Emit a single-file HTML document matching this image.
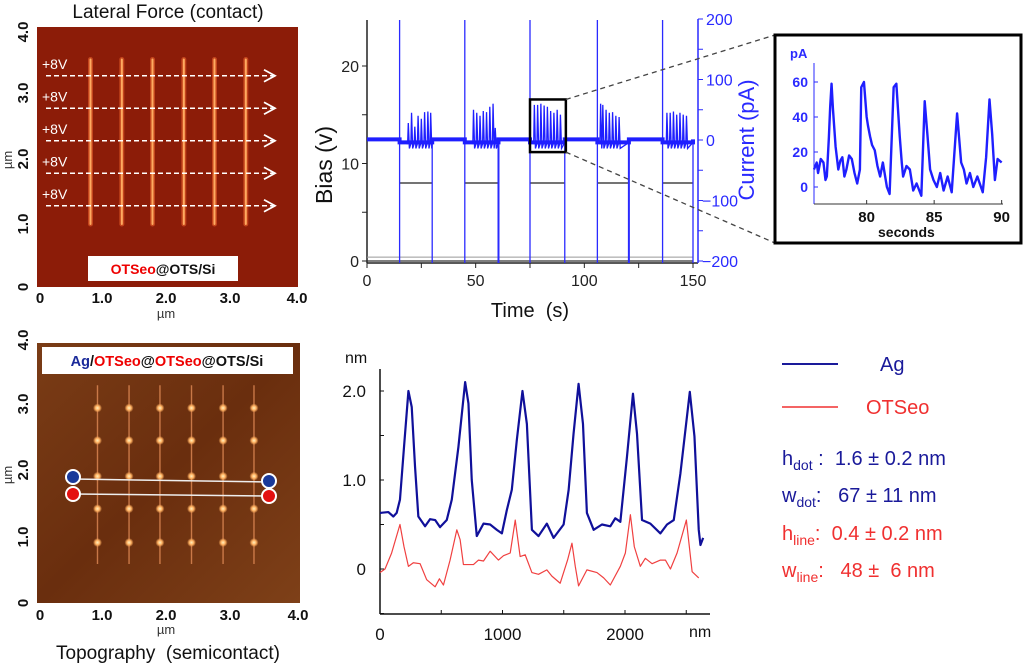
<!DOCTYPE html>
<html><head><meta charset="utf-8"><style>
html,body{margin:0;padding:0;background:#fff;}
svg{display:block;font-family:"Liberation Sans",sans-serif;}
text{white-space:pre;}
</style></head><body>
<svg id="fig" width="1024" height="665" viewBox="0 0 1024 665" xmlns="http://www.w3.org/2000/svg" xml:space="preserve">
<defs>
<radialGradient id="glow" cx="0.5" cy="0.5" r="0.5"><stop offset="0" stop-color="#fff2c0"/><stop offset="0.5" stop-color="#ffb060"/><stop offset="1" stop-color="#ffb060" stop-opacity="0"/></radialGradient>
<linearGradient id="topoBg" x1="0" y1="0" x2="1" y2="1"><stop offset="0" stop-color="#7a3c16"/><stop offset="0.5" stop-color="#6a2e0e"/><stop offset="1" stop-color="#7e4018"/></linearGradient>
</defs>

<g>
<text x="168" y="18" font-size="19" text-anchor="middle" fill="#111">Lateral Force (contact)</text>
<rect x="37" y="27" width="261" height="260" fill="#8c1c08"/>
<g id="lfLines"></g>
<g id="lfArrows"></g>
<rect x="88" y="256" width="150" height="25" fill="#fff"/>
<text x="163" y="274" font-size="14" font-weight="bold" text-anchor="middle"><tspan fill="#e00">OTSeo</tspan><tspan fill="#111">@OTS/Si</tspan></text>
<g font-size="15" font-weight="bold" fill="#111">
<text x="40" y="303" text-anchor="middle">0</text><text x="102" y="303" text-anchor="middle">1.0</text><text x="166" y="303" text-anchor="middle">2.0</text><text x="230" y="303" text-anchor="middle">3.0</text><text x="297" y="303" text-anchor="middle">4.0</text>
<text transform="translate(28,287) rotate(-90)" text-anchor="middle">0</text>
<text transform="translate(28,224) rotate(-90)" text-anchor="middle">1.0</text>
<text transform="translate(28,159) rotate(-90)" text-anchor="middle">2.0</text>
<text transform="translate(28,93) rotate(-90)" text-anchor="middle">3.0</text>
<text transform="translate(28,32) rotate(-90)" text-anchor="middle">4.0</text>
</g>
<text x="166" y="318" font-size="13" text-anchor="middle" fill="#333">µm</text>
<text transform="translate(12,160) rotate(-90)" font-size="13" text-anchor="middle" fill="#333">µm</text>
</g>

<g>
<rect x="37" y="343" width="263" height="260" fill="url(#topoBg)"/>
<g id="topoMarks"></g>
<rect x="42" y="347" width="251" height="27" fill="#fff"/>
<text x="167" y="366" font-size="14.5" font-weight="bold" text-anchor="middle"><tspan fill="#1a2a9a">Ag</tspan><tspan fill="#111">/</tspan><tspan fill="#e00">OTSeo</tspan><tspan fill="#111">@</tspan><tspan fill="#e00">OTSeo</tspan><tspan fill="#111">@OTS/Si</tspan></text>
<line x1="73" y1="479" x2="269" y2="482" stroke="#eee" stroke-width="1.5"/>
<line x1="73" y1="494" x2="269" y2="496" stroke="#eee" stroke-width="1.5"/>
<circle cx="73" cy="477" r="7" fill="#1a3a9a" stroke="#fff" stroke-width="2"/>
<circle cx="269" cy="481" r="7" fill="#1a3a9a" stroke="#fff" stroke-width="2"/>
<circle cx="73" cy="494" r="7" fill="#e41010" stroke="#fff" stroke-width="2"/>
<circle cx="269" cy="496" r="7" fill="#e41010" stroke="#fff" stroke-width="2"/>
<g font-size="15" font-weight="bold" fill="#111">
<text x="40" y="620" text-anchor="middle">0</text><text x="102" y="620" text-anchor="middle">1.0</text><text x="166" y="620" text-anchor="middle">2.0</text><text x="230" y="620" text-anchor="middle">3.0</text><text x="298" y="620" text-anchor="middle">4.0</text>
<text transform="translate(28,603) rotate(-90)" text-anchor="middle">0</text>
<text transform="translate(28,537) rotate(-90)" text-anchor="middle">1.0</text>
<text transform="translate(28,470) rotate(-90)" text-anchor="middle">2.0</text>
<text transform="translate(28,404) rotate(-90)" text-anchor="middle">3.0</text>
<text transform="translate(28,340) rotate(-90)" text-anchor="middle">4.0</text>
</g>
<text x="166" y="634" font-size="13" text-anchor="middle" fill="#333">µm</text>
<text transform="translate(12,475) rotate(-90)" font-size="13" text-anchor="middle" fill="#333">µm</text>
<text x="168" y="659" font-size="19" text-anchor="middle" fill="#111">Topography  (semicontact)</text>
</g>

<g id="biasChart"></g>
<g id="inset"></g>
<g id="profile"></g>

<g font-size="20">
<line x1="782" y1="364" x2="838" y2="364" stroke="#1a1a9a" stroke-width="2"/>
<text x="880" y="371" fill="#1a1a9a">Ag</text>
<line x1="782" y1="407" x2="838" y2="407" stroke="#f03030" stroke-width="1.5"/>
<text x="866" y="414" fill="#f03030">OTSeo</text>
<text x="782" y="465" fill="#1a1a9a">h<tspan font-size="14" dy="5">dot</tspan><tspan dy="-5"> :  1.6 ± 0.2 nm</tspan></text>
<text x="782" y="502" fill="#1a1a9a">w<tspan font-size="14" dy="5">dot</tspan><tspan dy="-5">:   67 ± 11 nm</tspan></text>
<text x="782" y="540" fill="#f03030">h<tspan font-size="14" dy="5">line</tspan><tspan dy="-5">:  0.4 ± 0.2 nm</tspan></text>
<text x="782" y="577" fill="#f03030">w<tspan font-size="14" dy="5">line</tspan><tspan dy="-5">:   48 ±  6 nm</tspan></text>
</g>
</svg>
<script>
const windowStarts = [15, 45, 75, 106, 136];
const windowEnds = [30, 60.5, 91, 120.5, 150];
const biasOn = 8;
const spikeTimes = [19,20.5,22,23.5,25,26.5,28,29.3, 49,50.5,52,53.5,55,56.5,58,59, 77,78.5,80,81.5,83,84.5,86,87.5,89, 107.5,108.5,110,111.5,113,114.5,116, 138,139.5,141,142.5,144,145.5,147];
const spikePeaks = [28,45,22,40,35,46,47,45, 50,45,40,48,46,55,60,20, 58,58,60,57,55,48,45,50,42, 60,58,50,45,46,40,38, 45,45,47,42,45,42,40];
const insetT = [76.1,76.3,76.4,76.6,76.8,76.95,77.05,77.2,77.3,77.4,77.5,77.7,77.9,78.05,78.2,78.35,78.5,78.7,78.9,79.1,79.3,79.5,79.6,79.8,80,80.1,80.25,80.4,80.6,80.8,81,81.2,81.5,81.7,82,82.2,82.45,82.6,82.7,82.95,83.2,83.45,83.7,84.05,84.3,84.5,84.7,84.95,85.2,85.45,85.7,86,86.3,86.7,87,87.2,87.4,87.65,87.9,88.2,88.6,88.85,89.1,89.3,89.5,89.7,90];
const insetI = [10,14,8,16,14,4,6,28,46,59,45,23,10,15,17,6,10,18,16,8,2,10,57,60,40,35,29,24,21,12,6,14,0,-4,57,59,29,14,6,12,10,-2,2,-5,49,30,10,4,0,8,-2,6,-3,42,14,10,2,8,0,6,-3,17,50,30,4,16,14];
const agX = [0,68,109,136,163,196,232,259,286,313,368,409,450,490,545,586,640,695,722,749,790,845,899,954,995,1035,1076,1117,1163,1199,1240,1294,1362,1417,1499,1540,1580,1621,1657,1689,1744,1812,1880,1921,1962,2016,2065,2098,2139,2207,2289,2343,2398,2452,2529,2567,2602,2616,2638];
const agY = [0.63,0.64,0.59,0.63,0.78,1.37,2.0,1.82,1.15,0.59,0.48,0.56,0.55,0.47,0.55,0.78,1.37,2.1,1.86,1.0,0.37,0.51,0.5,0.44,0.4,0.66,0.89,1.45,2.0,1.63,0.44,0.37,0.51,0.35,0.5,0.89,1.52,2.08,1.63,0.63,0.44,0.5,0.48,0.57,0.53,1.26,1.97,1.52,0.55,0.51,0.4,0.5,0.55,1.07,1.99,1.49,0.44,0.27,0.35];
const otX = [0,41,95,163,196,232,272,327,381,450,485,518,572,627,654,681,763,804,845,899,967,1008,1063,1104,1144,1185,1240,1294,1362,1403,1471,1531,1567,1594,1621,1689,1771,1826,1880,1962,2003,2044,2076,2125,2166,2221,2289,2330,2371,2425,2501,2548,2602];
const otY = [-0.04,0,0.18,0.5,0.25,0.03,0.07,0.06,-0.12,-0.2,-0.11,-0.18,0.1,0.44,0.33,0.05,0.05,0.1,0.09,0.2,0.1,0.15,0.18,0.55,0.14,0.16,-0.04,-0.06,-0.01,-0.08,-0.16,0.1,0.29,0.03,-0.19,-0.01,-0.04,-0.1,-0.18,0.03,0.18,0.61,0.25,0.03,0.12,0.06,0.1,0.1,0,0.18,0.55,-0.03,-0.1];
const timeTicks = [0,50,100,150];
const biasTicks = [0,10,20];
const currentTicks = [-200,-100,0,100,200];
const insetXTicks = [80,85,90];
const insetYTicks = [0,20,40,60];
const profXTicks = [0,1000,2000];
const profYTicks = [0,1.0,2.0];
const lfLineX = [0.82,1.3,1.77,2.25,2.72,3.2];
const lfArrowY = [3.25,2.75,2.25,1.75,1.25];
const topoColX = [0.92,1.4,1.87,2.35,2.83,3.3];
const topoRowY = [3.0,2.5,1.95,1.45,0.93];

const NS = "http://www.w3.org/2000/svg";
function mk(tag, attrs, parent){const e=document.createElementNS(NS,tag);for(const k in attrs)e.setAttribute(k,attrs[k]);parent.appendChild(e);return e;}

const lfx = v => 37 + v/4*261, lfy = v => 287 - v/4*260;
const lfL = document.getElementById('lfLines');
lfLineX.forEach(v=>{
  const g = mk('line',{x1:lfx(v),y1:lfy(3.5),x2:lfx(v),y2:lfy(0.97),stroke:'#e8602a','stroke-width':5,'stroke-linecap':'round',opacity:0.6},lfL);
  
  
  const l = mk('line',{x1:lfx(v),y1:lfy(3.5),x2:lfx(v),y2:lfy(0.97),stroke:'#ffaa60','stroke-width':2,'stroke-linecap':'round'},lfL);
  
  
});
const lfA = document.getElementById('lfArrows');
lfArrowY.forEach(v=>{
  const y=lfy(v);
  const a = mk('line',{x1:46,y1:y,x2:273,y2:y,stroke:'#fff','stroke-width':1.6,'stroke-dasharray':'5,3'},lfA);
  
  
  mk('polyline',{points:`264,${y-6} 275,${y} 264,${y+6}`,fill:'none',stroke:'#fff','stroke-width':1.8},lfA);
  const t = mk('text',{x:42,y:y-7,'font-size':14,fill:'#fff'},lfA);
  t.textContent='+8V';
  
  
});

const tx = v => 37 + v/4*263, ty = v => 603 - v/4*260;
const tm = document.getElementById('topoMarks');
topoColX.forEach(v=>{
  const l = mk('line',{x1:tx(v),y1:ty(3.35),x2:tx(v),y2:ty(0.6),stroke:'#e8905a','stroke-width':1.4,opacity:0.75},tm);
  
  
  topoRowY.forEach(r=>{
    const c = mk('circle',{cx:tx(v),cy:ty(r),r:4.5,fill:'url(#glow)'},tm);
    
    
  });
});

const bc = document.getElementById('biasChart');
const X = t => 367 + t*(326/150);
const YB = v => 261 - v*9.75;
const YC = c => 140 - c*0.605;
mk('line',{x1:367,y1:20,x2:367,y2:263,stroke:'#222','stroke-width':1.5},bc);
mk('line',{x1:367,y1:263,x2:698,y2:263,stroke:'#222','stroke-width':1.5},bc);
mk('line',{x1:698,y1:19,x2:698,y2:263,stroke:'#2a2aff','stroke-width':1.5},bc);
[0,25,50,75,100,125,150].forEach(t=>mk('line',{x1:X(t),y1:263,x2:X(t),y2:268,stroke:'#222'},bc));
[0,5,10,15,20].forEach(v=>mk('line',{x1:362,y1:YB(v),x2:367,y2:YB(v),stroke:'#222'},bc));
[-200,-150,-100,-50,0,50,100,150,200].forEach(c=>mk('line',{x1:698,y1:YC(c),x2:703,y2:YC(c),stroke:'#2a2aff'},bc));
timeTicks.forEach(t=>{const e=mk('text',{x:X(t),y:286,'font-size':16,'text-anchor':'middle',fill:'#222'},bc);e.textContent=t;});
biasTicks.forEach(v=>{const e=mk('text',{x:359,y:YB(v)+6,'font-size':16,'text-anchor':'end',fill:'#222'},bc);e.textContent=v;});
currentTicks.forEach(c=>{const e=mk('text',{x:c<0?702:706,y:YC(c)+6,'font-size':16,fill:'#2a2aff'},bc);e.textContent=c<0?'\u2212'+Math.abs(c):c;});
let e1=mk('text',{x:530,y:317,'font-size':20,'text-anchor':'middle',fill:'#111'},bc);e1.textContent='Time  (s)';


let e2=mk('text',{transform:'translate(332,165) rotate(-90)','font-size':23,'text-anchor':'middle',fill:'#111'},bc);e2.textContent='Bias (v)';


let e3=mk('text',{transform:'translate(754,140) rotate(-90)','font-size':22,'text-anchor':'middle',fill:'#2a2aff'},bc);e3.textContent='Current (pA)';


mk('line',{x1:X(0),y1:YB(0),x2:X(150),y2:YB(0),stroke:'#333','stroke-width':1.2},bc);
mk('line',{x1:X(0),y1:YB(0.4),x2:X(150),y2:YB(0.4),stroke:'#999','stroke-width':1},bc);
windowStarts.forEach((s,i)=>{
  const b = mk('line',{x1:X(s),y1:YB(biasOn),x2:X(windowEnds[i]),y2:YB(biasOn),stroke:'#222','stroke-width':1.2},bc);
  
  
  const v1 = mk('line',{x1:X(s),y1:20,x2:X(s),y2:263,stroke:'#2a2aff','stroke-width':1.3},bc);
  
  
  const v2 = mk('line',{x1:X(windowEnds[i]),y1:YC(0),x2:X(windowEnds[i]),y2:263,stroke:'#2a2aff','stroke-width':i%2?2:1.3},bc);
  
  
});
let bpts=[[0,1]];
windowStarts.forEach((s,i)=>{bpts.push([s,1]);bpts.push([s,-4]);bpts.push([windowEnds[i],-4]);bpts.push([windowEnds[i],1]);});
const base = mk('polyline',{points:bpts.map(p=>X(p[0])+','+YC(p[1])).join(' '),fill:'none',stroke:'#1f1fff','stroke-width':4},bc);


windowStarts.forEach((s,w)=>{
  let sp=[[s,-4]];
  spikeTimes.forEach((t,i)=>{ if(t>=s && t<=windowEnds[w]){sp.push([t-0.3,-6]);sp.push([t,spikePeaks[i]]);sp.push([t+0.5,-14]);} });
  sp.push([windowEnds[w],-4]);
  const spk = mk('polyline',{points:sp.map(p=>X(p[0])+','+YC(p[1])).join(' '),fill:'none',stroke:'#1f1fff','stroke-width':1.3},bc);
  
  
});
const zb = mk('rect',{x:X(75),y:YC(67),width:X(91.5)-X(75),height:YC(-20)-YC(67),fill:'none',stroke:'#000','stroke-width':2.5},bc);


mk('line',{x1:X(91.5),y1:YC(67),x2:775,y2:35,stroke:'#444','stroke-width':1.3,'stroke-dasharray':'5,4'},bc);
mk('line',{x1:X(91.5),y1:YC(-20),x2:775,y2:243,stroke:'#444','stroke-width':1.3,'stroke-dasharray':'5,4'},bc);

const ins = document.getElementById('inset');
mk('rect',{x:775,y:35,width:246,height:208,fill:'#fff',stroke:'#000','stroke-width':3},ins);
const IX = t => 814 + (t-76.1)*13.5;
const IY = c => 187 - c*1.75;
mk('line',{x1:814,y1:63,x2:814,y2:204,stroke:'#2a2aff','stroke-width':1},ins);
mk('line',{x1:814,y1:204,x2:1003,y2:204,stroke:'#333','stroke-width':1},ins);
insetXTicks.forEach(t=>{mk('line',{x1:IX(t),y1:204,x2:IX(t),y2:200,stroke:'#333'},ins);const e=mk('text',{x:IX(t),y:222,'font-size':15,'font-weight':'bold','text-anchor':'middle',fill:'#111'},ins);e.textContent=t;});
insetYTicks.forEach(c=>{mk('line',{x1:814,y1:IY(c),x2:818,y2:IY(c),stroke:'#2a2aff'},ins);const e=mk('text',{x:808,y:IY(c)+5,'font-size':14,'font-weight':'bold','text-anchor':'end',fill:'#2a2aff'},ins);e.textContent=c;});
let it=mk('text',{x:790,y:58,'font-size':13,'font-weight':'bold',fill:'#2a2aff'},ins);it.textContent='pA';
let ix=mk('text',{x:878,y:237,'font-size':14,'font-weight':'bold',fill:'#111'},ins);ix.textContent='seconds';


const itr = mk('polyline',{points:insetT.map((t,i)=>IX(t)+','+IY(insetI[i])).join(' '),fill:'none',stroke:'#1f1fff','stroke-width':2.4,'stroke-linejoin':'round'},ins);



const pr = document.getElementById('profile');
const PX = v => 380 + v*0.1225;
const PY = v => 569 - v*89;
mk('line',{x1:380,y1:369,x2:380,y2:614,stroke:'#111','stroke-width':1.5},pr);
mk('line',{x1:380,y1:614,x2:710,y2:614,stroke:'#111','stroke-width':1.5},pr);
[0,500,1000,1500,2000,2500].forEach(v=>mk('line',{x1:PX(v),y1:614,x2:PX(v),y2:610,stroke:'#111'},pr));
[-0.5,0,0.5,1,1.5,2].forEach(v=>mk('line',{x1:380,y1:PY(v),x2:384,y2:PY(v),stroke:'#111'},pr));
profXTicks.forEach(v=>{const e=mk('text',{x:PX(v),y:640,'font-size':17,'text-anchor':'middle',fill:'#111'},pr);e.textContent=v;});
profYTicks.forEach(v=>{const e=mk('text',{x:366,y:PY(v)+6,'font-size':17,'text-anchor':'end',fill:'#111'},pr);e.textContent=v===0?'0':v.toFixed(1);});
let pn1=mk('text',{x:345,y:363,'font-size':16,fill:'#111'},pr);pn1.textContent='nm';
let pn2=mk('text',{x:689,y:637,'font-size':16,fill:'#111'},pr);pn2.textContent='nm';
const ag = mk('polyline',{points:agX.map((x,i)=>PX(x)+','+PY(agY[i])).join(' '),fill:'none',stroke:'#10109a','stroke-width':2.2,'stroke-linejoin':'round'},pr);


const ot = mk('polyline',{points:otX.map((x,i)=>PX(x)+','+PY(otY[i])).join(' '),fill:'none',stroke:'#f04040','stroke-width':1.2,'stroke-linejoin':'round'},pr);


</script>
</body></html>
